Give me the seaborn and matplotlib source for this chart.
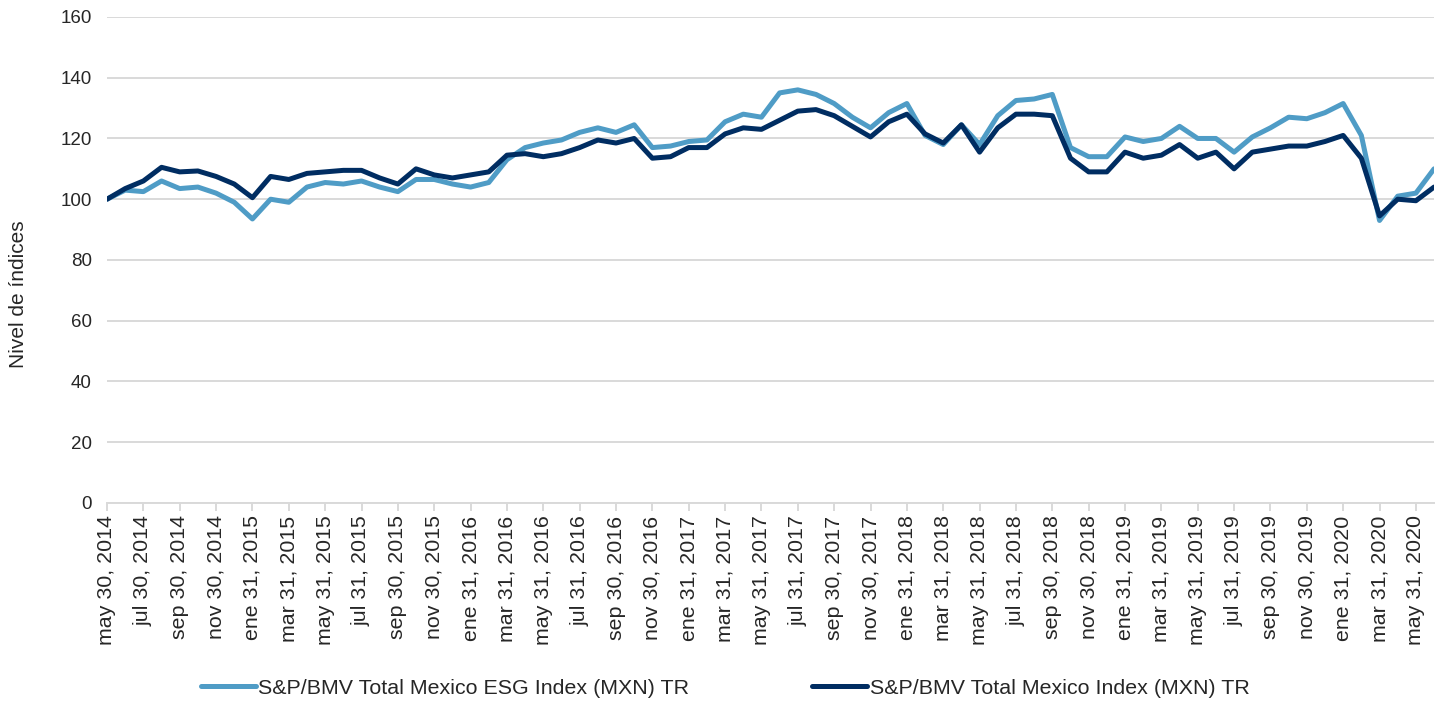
import pandas as pd
import seaborn as sns
import matplotlib.pyplot as plt

# monthly index levels, may 2014 .. jun 2020
esg = [100, 103, 102.5, 106, 103.5, 104, 102, 99, 93.5, 100, 99, 104, 105.5, 105, 106, 104,
       102.5, 106.5, 106.5, 105, 104, 105.5, 113, 117, 118.5, 119.5, 122, 123.5, 122, 124.5,
       117, 117.5, 119, 119.5, 125.5, 128, 127, 135, 136, 134.5, 131.5, 127, 123.5, 128.5,
       131.5, 121, 118, 124.5, 118, 127.5, 132.5, 133, 134.5, 117, 114, 114, 120.5, 119,
       120, 124, 120, 120, 115.5, 120.5, 123.5, 127, 126.5, 128.5, 131.5, 121, 93, 101,
       102, 110]
total = [100, 103.5, 106, 110.5, 109, 109.3, 107.5, 105, 100.5, 107.5, 106.5, 108.5, 109,
         109.5, 109.5, 107, 105, 110, 108, 107, 108, 109, 114.5, 115, 114, 115, 117, 119.5,
         118.5, 120, 113.5, 114, 117, 117, 121.5, 123.5, 123, 126, 129, 129.5, 127.5, 124,
         120.5, 125.5, 128, 121.5, 118.5, 124.5, 115.5, 123.5, 128, 128, 127.5, 113.5, 109,
         109, 115.5, 113.5, 114.5, 118, 113.5, 115.5, 110, 115.5, 116.5, 117.5, 117.5, 119,
         121, 113.5, 94.5, 100, 99.5, 104]

tick_labels = [
    "may 30, 2014", "jul 30, 2014", "sep 30, 2014", "nov 30, 2014",
    "ene 31, 2015", "mar 31, 2015", "may 31, 2015", "jul 31, 2015", "sep 30, 2015", "nov 30, 2015",
    "ene 31, 2016", "mar 31, 2016", "may 31, 2016", "jul 31, 2016", "sep 30, 2016", "nov 30, 2016",
    "ene 31, 2017", "mar 31, 2017", "may 31, 2017", "jul 31, 2017", "sep 30, 2017", "nov 30, 2017",
    "ene 31, 2018", "mar 31, 2018", "may 31, 2018", "jul 31, 2018", "sep 30, 2018", "nov 30, 2018",
    "ene 31, 2019", "mar 31, 2019", "may 31, 2019", "jul 31, 2019", "sep 30, 2019", "nov 30, 2019",
    "ene 31, 2020", "mar 31, 2020", "may 31, 2020",
]

name_esg = "S&P/BMV Total Mexico ESG Index (MXN) TR"
name_total = "S&P/BMV Total Mexico Index (MXN) TR"

df = pd.concat([
    pd.DataFrame({"mes": range(len(esg)), "valor": esg, "serie": name_esg}),
    pd.DataFrame({"mes": range(len(total)), "valor": total, "serie": name_total}),
])

sns.set_theme(style="white")
plt.rcParams["font.family"] = ["Liberation Sans", "DejaVu Sans"]
text_color = "#262626"
grid_color = "#d9d9d9"

fig = plt.figure(figsize=(14.42, 7.01), dpi=100)
ax = fig.add_axes([0.0742, 0.2825, 0.9203, 0.6933])

sns.lineplot(data=df, x="mes", y="valor", hue="serie", ax=ax, linewidth=3.6,
             palette={name_esg: "#4f9cc6", name_total: "#002d62"})

ax.set_xlim(0, len(esg) - 1)
ax.set_ylim(0, 160)
ax.set_yticks(range(0, 161, 20))
ax.tick_params(axis="y", labelsize=13.5, colors=text_color, length=0, pad=11)
ax.yaxis.grid(True, color=grid_color, linewidth=1.4)
ax.set_axisbelow(True)

ax.set_xticks(range(0, len(esg), 2))
ax.set_xticklabels(tick_labels, rotation=90)
ax.tick_params(axis="x", labelsize=15.4, colors=grid_color, labelcolor=text_color,
               length=6, width=1.4, direction="out", pad=3, bottom=True)

for side in ["top", "right", "left"]:
    ax.spines[side].set_visible(False)
ax.spines["bottom"].set_color(grid_color)
ax.spines["bottom"].set_linewidth(1.4)

ax.set_xlabel("")
ax.set_ylabel("Nivel de índices", fontsize=15, color=text_color)
ax.yaxis.set_label_coords(-0.0595, 0.43)

handles, labels = ax.get_legend_handles_labels()
ax.legend(handles, labels, loc="center", bbox_to_anchor=(0.503, 0.018),
          bbox_transform=fig.transFigure, ncol=2, frameon=False, fontsize=15.4,
          handlelength=2.57, handletextpad=0.1, columnspacing=5.75, labelcolor=text_color)

fig.savefig("out.png", dpi=100)
